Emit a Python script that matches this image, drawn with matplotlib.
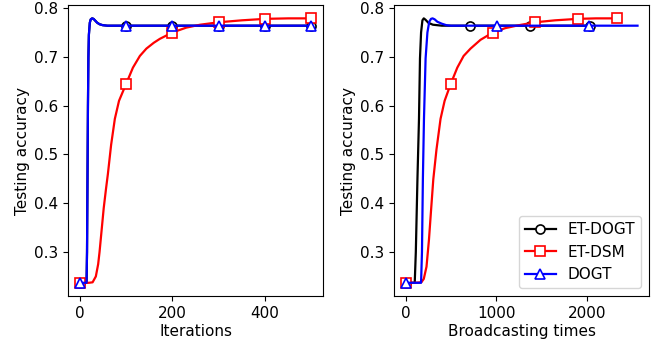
import matplotlib
matplotlib.use("Agg")
import matplotlib.pyplot as plt

# left panel: accuracy vs iterations
it_dogt = [0, 5, 10, 15, 16, 17, 18, 19, 20, 22, 24, 27, 30, 34, 38, 43, 50, 60, 80,
           100, 200, 300, 400, 500]
acc_dogt = [0.237, 0.237, 0.237, 0.237, 0.30, 0.45, 0.60, 0.70, 0.745, 0.770, 0.777,
            0.779, 0.778, 0.774, 0.770, 0.767, 0.765, 0.764, 0.764,
            0.764, 0.764, 0.764, 0.764, 0.764]
it_etdogt = it_dogt
acc_etdogt = acc_dogt

it_etdsm = [0, 10, 20, 28, 35, 40, 43, 48, 52, 57, 61, 68, 76, 85, 100, 115, 130, 144,
            160, 173, 200, 230, 260, 300, 350, 400, 450, 500]
acc_etdsm = [0.237, 0.237, 0.237, 0.238, 0.25, 0.275, 0.30, 0.35, 0.39, 0.43, 0.46,
             0.52, 0.573, 0.61, 0.644, 0.678, 0.702, 0.717, 0.729, 0.737, 0.750,
             0.760, 0.766, 0.771, 0.775, 0.778, 0.779, 0.779]

# right panel: accuracy vs broadcasting times
bc_etdogt = [0, 50, 100, 112, 130, 147, 158, 170, 185, 200, 220, 250, 300, 400, 460,
             705, 1370, 2030]
bacc_etdogt = [0.237, 0.237, 0.237, 0.30, 0.45, 0.573, 0.697, 0.75, 0.775, 0.779,
               0.776, 0.770, 0.766, 0.764, 0.764, 0.764, 0.764, 0.764]

bc_etdsm = [0, 100, 173, 200, 230, 257, 280, 305, 340, 385, 430, 496, 570, 640, 716,
            826, 962, 1100, 1250, 1432, 1650, 1902, 2100, 2331]
bacc_etdsm = [0.237, 0.237, 0.238, 0.245, 0.27, 0.325, 0.385, 0.449, 0.51, 0.573,
              0.61, 0.644, 0.678, 0.702, 0.717, 0.735, 0.750, 0.759, 0.765, 0.771,
              0.775, 0.778, 0.779, 0.779]

bc_dogt = [0, 100, 170, 180, 190, 202, 220, 240, 260, 280, 297, 320, 350, 400, 450,
           500, 1010, 2020, 2560]
bacc_dogt = [0.237, 0.237, 0.237, 0.30, 0.45, 0.573, 0.697, 0.75, 0.772, 0.778,
             0.779, 0.777, 0.772, 0.768, 0.765, 0.764, 0.764, 0.764, 0.764]


def mark_idx(xs, where):
    return [xs.index(w) for w in where]


fig = plt.figure(figsize=(6.59, 3.43), dpi=100)
ax1 = fig.add_axes([0.1032, 0.137, 0.387, 0.848])
ax2 = fig.add_axes([0.598, 0.137, 0.387, 0.848])

style = dict(lw=1.6, ms=6.5, mfc="white", mew=1.2)
ticks100 = [0, 100, 200, 300, 400, 500]

ax1.plot(it_etdogt, acc_etdogt, "k-o", markevery=mark_idx(it_etdogt, ticks100), label="ET-DOGT", **style)
ax1.plot(it_etdsm, acc_etdsm, "r-s", markevery=mark_idx(it_etdsm, ticks100), label="ET-DSM", **style)
ax1.plot(it_dogt, acc_dogt, "b-^", markevery=mark_idx(it_dogt, ticks100), label="DOGT", **style)

ax2.plot(bc_etdogt, bacc_etdogt, "k-o", markevery=mark_idx(bc_etdogt, [0, 705, 1370, 2030]), label="ET-DOGT", **style)
ax2.plot(bc_etdsm, bacc_etdsm, "r-s", markevery=mark_idx(bc_etdsm, [0, 496, 962, 1432, 1902, 2331]), label="ET-DSM", **style)
ax2.plot(bc_dogt, bacc_dogt, "b-^", markevery=mark_idx(bc_dogt, [0, 1010, 2020]), label="DOGT", **style)

for ax in (ax1, ax2):
    ax.set_ylabel("Testing accuracy", fontsize=11, labelpad=3)
    ax.tick_params(labelsize=11)
    ax.set_yticks([0.3, 0.4, 0.5, 0.6, 0.7, 0.8])

ax1.set_xlabel("Iterations", fontsize=11, labelpad=2)
ax2.set_xlabel("Broadcasting times", fontsize=11, labelpad=2)
ax1.set_xticks([0, 200, 400])
ax2.set_xticks([0, 1000, 2000])
ax2.legend(loc="lower right", fontsize=11)

fig.savefig("out.png", dpi=100)
